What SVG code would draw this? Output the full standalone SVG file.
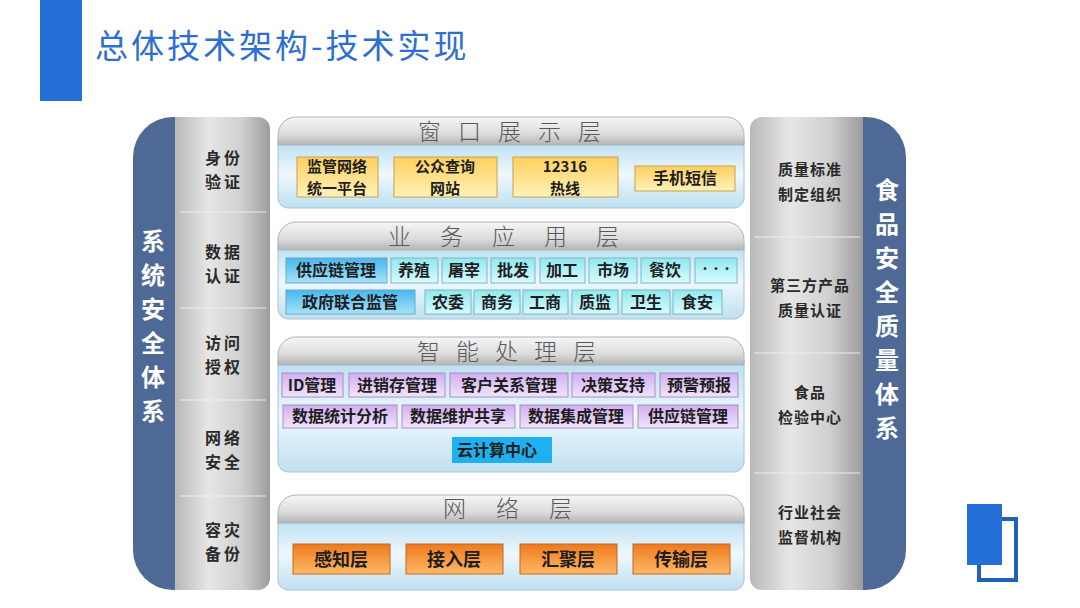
<svg xmlns="http://www.w3.org/2000/svg" width="1080" height="608" viewBox="0 0 1080 608">
<defs>
<linearGradient id="gcol" x1="0" y1="0" x2="1" y2="0">
<stop offset="0" stop-color="#b8b8b8"/><stop offset="0.35" stop-color="#e6e6e6"/><stop offset="0.7" stop-color="#d0d0d0"/><stop offset="1" stop-color="#9c9c9c"/>
</linearGradient>
<linearGradient id="ghead" x1="0" y1="0" x2="0" y2="1">
<stop offset="0" stop-color="#f6f6f6"/><stop offset="0.6" stop-color="#dcdcdc"/><stop offset="1" stop-color="#b4b4b4"/>
</linearGradient>
<linearGradient id="gbody" x1="0" y1="0" x2="0" y2="1">
<stop offset="0" stop-color="#b9def2"/><stop offset="0.5" stop-color="#eef8fd"/><stop offset="1" stop-color="#bfe0f1"/>
</linearGradient>
<linearGradient id="gyel" x1="0" y1="0" x2="0" y2="1">
<stop offset="0" stop-color="#ffcf5e"/><stop offset="1" stop-color="#fff2b8"/>
</linearGradient>
<linearGradient id="gcyan" x1="0" y1="0" x2="0" y2="1">
<stop offset="0" stop-color="#8fe8f0"/><stop offset="1" stop-color="#d9fbff"/>
</linearGradient>
<linearGradient id="gblue" x1="0" y1="0" x2="0" y2="1">
<stop offset="0" stop-color="#45b8ec"/><stop offset="1" stop-color="#a8e2fa"/>
</linearGradient>
<linearGradient id="gpur" x1="0" y1="0" x2="0" y2="1">
<stop offset="0" stop-color="#d2aef0"/><stop offset="1" stop-color="#f1e4ff"/>
</linearGradient>
<linearGradient id="gora" x1="0" y1="0" x2="0" y2="1">
<stop offset="0" stop-color="#ee7a1c"/><stop offset="1" stop-color="#ffb866"/>
</linearGradient>
<style>
text{font-family:"Noto Sans CJK SC","Noto Sans",sans-serif;}
.t{font-size:16px;font-weight:700;fill:#1e1e1e;text-anchor:middle;}
.t2{font-size:15px;font-weight:700;fill:#1e1e1e;text-anchor:middle;}
.side{font-size:15px;font-weight:700;fill:#2a2a2a;text-anchor:middle;letter-spacing:1px;}
.vt{font-size:24px;font-weight:700;fill:#ffffff;text-anchor:middle;}
.lt{font-size:23px;font-weight:300;fill:#5a5a5a;}
.head{fill:url(#ghead);stroke:#a8b4bc;stroke-width:1;}
.body{fill:url(#gbody);stroke:#a8c4d4;stroke-width:1;}
.yel{fill:url(#gyel);stroke:#c8a050;stroke-width:1;}
.cy{fill:url(#gcyan);stroke:#7cb8c0;stroke-width:1;}
.bl{fill:url(#gblue);stroke:#6aa8c8;stroke-width:1;}
.pu{fill:url(#gpur);stroke:#a890c0;stroke-width:1;}
.or{fill:url(#gora);stroke:#c06a20;stroke-width:1;}
.blue{fill:#4e6996;}
.gray{fill:url(#gcol);}
.sep{stroke:#eeeeee;stroke-width:1.2;}
</style>
</defs>
<rect width="1080" height="608" fill="#ffffff"/>

<g id="title">
<rect x="40" y="0" width="42" height="101" fill="#2470d8"/>
<text x="95" y="58" style="font-size:33px;fill:#2d6fd2;font-weight:400;letter-spacing:3px;">总体技术架构-技术实现</text>
</g>

<g id="left-panel">
<path class="blue" d="M176,117 H173 A40,40 0 0 0 133,157 V550 A40,40 0 0 0 173,590 H176 Z"/>
<path class="gray" d="M175,117 H258 A12,12 0 0 1 270,129 V578 A12,12 0 0 1 258,590 H175 Z"/>
<line class="sep" x1="180" y1="212" x2="266" y2="212"/>
<line class="sep" x1="180" y1="308" x2="266" y2="308"/>
<line class="sep" x1="180" y1="400" x2="266" y2="400"/>
<line class="sep" x1="180" y1="496" x2="266" y2="496"/>
<g class="vt"><text x="153" y="250">系</text><text x="153" y="284">统</text><text x="153" y="318">安</text><text x="153" y="352">全</text><text x="153" y="386">体</text><text x="153" y="420">系</text></g>
<g class="side" style="font-size:16px;letter-spacing:3px;">
<text x="224" y="164">身份</text><text x="224" y="188">验证</text>
<text x="224" y="258">数据</text><text x="224" y="282">认证</text>
<text x="224" y="349">访问</text><text x="224" y="373">授权</text>
<text x="224" y="444">网络</text><text x="224" y="468">安全</text>
<text x="224" y="536">容灾</text><text x="224" y="560">备份</text>
</g>
</g>

<g id="right-panel">
<path class="blue" d="M862,117 H866 A40,40 0 0 1 906,157 V550 A40,40 0 0 1 866,590 H862 Z"/>
<path class="gray" d="M863,117 H762 A12,12 0 0 0 750,129 V578 A12,12 0 0 0 762,590 H863 Z"/>
<line class="sep" x1="754" y1="237" x2="860" y2="237"/>
<line class="sep" x1="754" y1="353" x2="860" y2="353"/>
<line class="sep" x1="754" y1="473" x2="860" y2="473"/>
<g class="vt"><text x="887" y="199">食</text><text x="887" y="233">品</text><text x="887" y="267">安</text><text x="887" y="301">全</text><text x="887" y="335">质</text><text x="887" y="369">量</text><text x="887" y="403">体</text><text x="887" y="437">系</text></g>
<g class="side">
<text x="810" y="175">质量标准</text><text x="810" y="200">制定组织</text>
<text x="810" y="291">第三方产品</text><text x="810" y="316">质量认证</text>
<text x="810" y="398">食品</text><text x="810" y="423">检验中心</text>
<text x="810" y="518">行业社会</text><text x="810" y="543">监督机构</text>
</g>
</g>

<g id="layer-window">
<path class="body" d="M278,140 H744 V198 A10,10 0 0 1 734,208 H288 A10,10 0 0 1 278,198 Z"/>
<path class="head" d="M296,117 H726 A18,18 0 0 1 744,135 V145 H278 V135 A18,18 0 0 1 296,117 Z"/>
<text class="lt" x="418" y="140" style="letter-spacing:17px;">窗口展示层</text>
<rect class="yel" x="297" y="157" width="81" height="40"/>
<text class="t2" x="337" y="171.5">监管网络</text><text class="t2" x="337" y="193.5">统一平台</text>
<rect class="yel" x="394" y="157" width="103" height="40"/>
<text class="t2" x="445" y="171.5">公众查询</text><text class="t2" x="445" y="193.5">网站</text>
<rect class="yel" x="513" y="157" width="105" height="40"/>
<text class="t2" x="565" y="171.5">12316</text><text class="t2" x="565" y="193.5">热线</text>
<rect class="yel" x="635" y="166" width="100" height="25"/>
<text class="t" x="685" y="184">手机短信</text>
</g>

<g id="layer-business">
<path class="body" d="M278,245 H744 V309 A10,10 0 0 1 734,319 H288 A10,10 0 0 1 278,309 Z"/>
<path class="head" d="M296,222 H726 A18,18 0 0 1 744,240 V250 H278 V240 A18,18 0 0 1 296,222 Z"/>
<text class="lt" x="388" y="245" style="letter-spacing:29px;">业务应用层</text>
<rect class="bl" x="286" y="258" width="101" height="25"/><text class="t" x="336" y="276">供应链管理</text>
<rect class="cy" x="391" y="258" width="47" height="25"/><text class="t" x="414" y="276">养殖</text>
<rect class="cy" x="442" y="258" width="45" height="25"/><text class="t" x="464" y="276">屠宰</text>
<rect class="cy" x="491" y="258" width="44" height="25"/><text class="t" x="513" y="276">批发</text>
<rect class="cy" x="540" y="258" width="45" height="25"/><text class="t" x="562" y="276">加工</text>
<rect class="cy" x="589" y="258" width="48" height="25"/><text class="t" x="613" y="276">市场</text>
<rect class="cy" x="641" y="258" width="49" height="25"/><text class="t" x="665" y="276">餐饮</text>
<rect class="cy" x="695" y="258" width="42" height="25"/><text class="t" x="716" y="273" style="font-size:11px;">···</text>
<rect class="bl" x="286" y="290" width="129" height="24"/><text class="t" x="350" y="308">政府联合监管</text>
<rect class="cy" x="425" y="290" width="46" height="24"/><text class="t" x="448" y="308">农委</text>
<rect class="cy" x="474" y="290" width="46" height="24"/><text class="t" x="497" y="308">商务</text>
<rect class="cy" x="523" y="290" width="45" height="24"/><text class="t" x="545" y="308">工商</text>
<rect class="cy" x="572" y="290" width="46" height="24"/><text class="t" x="595" y="308">质监</text>
<rect class="cy" x="622" y="290" width="48" height="24"/><text class="t" x="646" y="308">卫生</text>
<rect class="cy" x="673" y="290" width="49" height="24"/><text class="t" x="697" y="308">食安</text>
</g>

<g id="layer-processing">
<path class="body" d="M278,360 H744 V462 A10,10 0 0 1 734,472 H288 A10,10 0 0 1 278,462 Z"/>
<path class="head" d="M296,337 H726 A18,18 0 0 1 744,355 V365 H278 V355 A18,18 0 0 1 296,337 Z"/>
<text class="lt" x="417" y="360" style="letter-spacing:16px;">智能处理层</text>
<rect class="pu" x="282" y="373" width="61" height="24"/><text class="t" x="312" y="391">ID管理</text>
<rect class="pu" x="349" y="373" width="96" height="24"/><text class="t" x="397" y="391">进销存管理</text>
<rect class="pu" x="450" y="373" width="118" height="24"/><text class="t" x="509" y="391">客户关系管理</text>
<rect class="pu" x="572" y="373" width="83" height="24"/><text class="t" x="613" y="391">决策支持</text>
<rect class="pu" x="660" y="373" width="78" height="24"/><text class="t" x="699" y="391">预警预报</text>
<rect class="pu" x="283" y="405" width="114" height="23"/><text class="t" x="340" y="422">数据统计分析</text>
<rect class="pu" x="402" y="405" width="113" height="23"/><text class="t" x="458" y="422">数据维护共享</text>
<rect class="pu" x="520" y="405" width="113" height="23"/><text class="t" x="576" y="422">数据集成管理</text>
<rect class="pu" x="638" y="405" width="100" height="23"/><text class="t" x="688" y="422">供应链管理</text>
<rect x="452" y="437" width="100" height="26" fill="#1eb0f0"/><text class="t" x="497" y="456">云计算中心</text>
</g>

<g id="layer-network">
<path class="body" d="M278,518 H744 V580 A10,10 0 0 1 734,590 H288 A10,10 0 0 1 278,580 Z"/>
<path class="head" d="M296,495 H726 A18,18 0 0 1 744,513 V523 H278 V513 A18,18 0 0 1 296,495 Z"/>
<text class="lt" x="443" y="517" style="letter-spacing:30px;">网络层</text>
<rect class="or" x="293" y="544" width="97" height="30"/><text class="t" x="341" y="566" style="font-size:18px;">感知层</text>
<rect class="or" x="406" y="544" width="97" height="30"/><text class="t" x="454" y="566" style="font-size:18px;">接入层</text>
<rect class="or" x="520" y="544" width="97" height="30"/><text class="t" x="568" y="566" style="font-size:18px;">汇聚层</text>
<rect class="or" x="633" y="544" width="97" height="30"/><text class="t" x="681" y="566" style="font-size:18px;">传输层</text>
</g>

<g id="connectors"></g>

<g id="corner-icon">
<rect x="979" y="519" width="37" height="61" fill="none" stroke="#1f62b8" stroke-width="4"/>
<rect x="967" y="504" width="35" height="61" fill="#2470d8"/>
</g>
</svg>
